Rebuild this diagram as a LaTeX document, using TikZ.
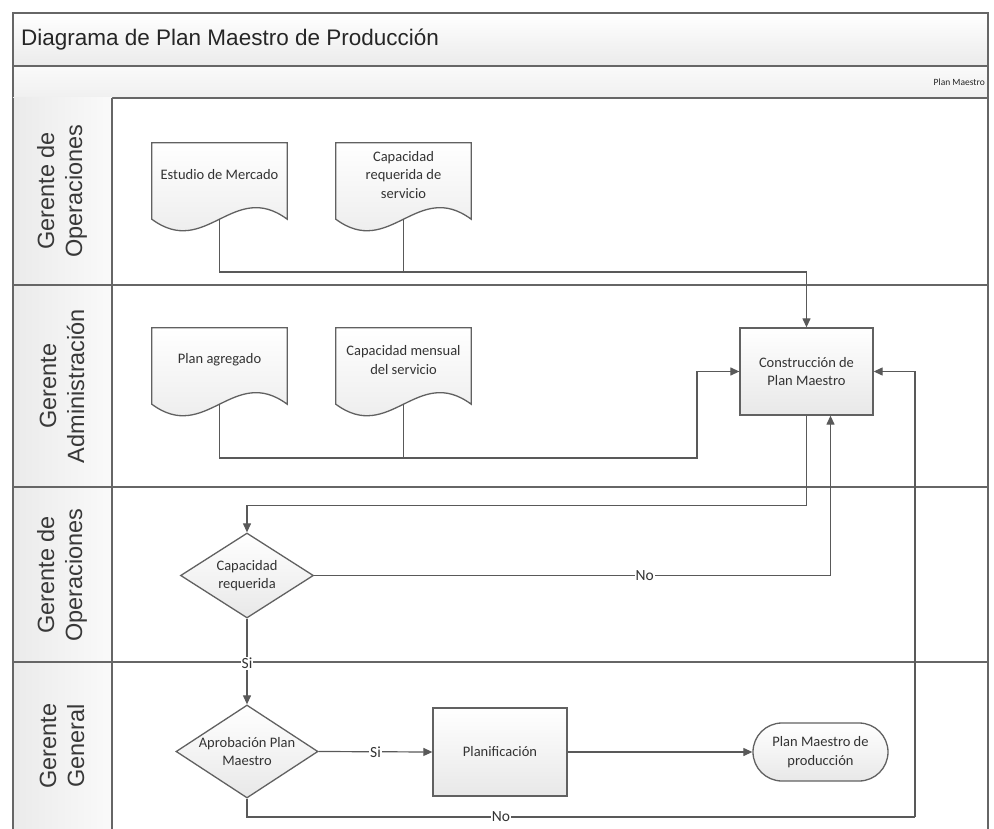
\documentclass[tikz,border=0pt]{standalone}
\usepackage{fontspec}
\setmainfont{Carlito}
\newfontfamily\arialf{Liberation Sans}
\usetikzlibrary{arrows.meta,calc,shapes.geometric}
\pgfdeclarelayer{back}
\pgfdeclarelayer{mid}
\pgfsetlayers{back,mid,main}
\newcommand\docoutline[1]{\draw[shp] (#1.north west) -- (#1.north east) -- ($(#1.south east)+(0,12)$) .. controls ($(#1.south east)+(-54,-28)$) and ($(#1.south west)+(54,52)$) .. ($(#1.south west)+(0,12)$) -- cycle;}
\begin{document}
\begin{tikzpicture}[x=1pt,y=-1pt,
  frame/.style={draw=black!60, line width=1.4pt},
  conn/.style={draw=black!65, line width=1.2pt},
  arr/.style={conn, -{Triangle[length=9pt,width=8pt]}},
  shp/.style={draw=black!62, line width=1.3pt, top color=white, bottom color=black!9},
  txt/.style={font=\fontsize{14.5}{18.5}\selectfont, align=center, text=black!80},
  lbl/.style={font=\fontsize{15.5}{18}\selectfont, fill=white, inner sep=1pt, text=black!80},
  lane/.style={font=\arialf\fontsize{23.5}{28}\selectfont, rotate=90, align=center, text=black!78},
  docbox/.style={txt, minimum width=135, minimum height=64, inner sep=0},
  proc/.style={shp, txt, rectangle, minimum width=133, minimum height=87, inner sep=0},
  dec/.style={shp, diamond, inner sep=0},
  term/.style={shp, txt, rectangle, rounded corners=29pt, minimum width=135, minimum height=58, inner sep=0}
]
\useasboundingbox (0,0) rectangle (994,829);
\begin{pgfonlayer}{back}
\fill[white] (0,0) rectangle (994,829);
\draw[frame, top color=white, bottom color=black!8] (13,13) rectangle (988,66);
\draw[frame, top color=black!2, bottom color=black!6] (13,66) rectangle (988,98);
\shade[left color=black!8, right color=black!2] (13,98) rectangle (112,829);
\draw[frame] (13,98) -- (13,829);
\draw[frame] (112,98) -- (112,829);
\draw[frame] (988,98) -- (988,829);
\draw[frame] (13,285) -- (988,285);
\draw[frame] (13,487) -- (988,487);
\draw[frame] (13,662) -- (988,662);
\end{pgfonlayer}

% headers
\node[anchor=west, font=\arialf\fontsize{22.5}{27}\selectfont, text=black!85, inner sep=0] (title) at (21,40) {Diagrama de Plan Maestro de Producción};
\node[anchor=east, font=\fontsize{9.5}{11}\selectfont, text=black!85, inner sep=0] (pmhead) at (985,82) {Plan Maestro};

% lane labels
\node[lane] (l1) at (62,191) {Gerente de\\Operaciones};
\node[lane] (l2) at (62,386) {Gerente\\Administración};
\node[lane] (l3) at (62,575) {Gerente de\\Operaciones};
\node[lane] (l4) at (62,746) {Gerente\\General};

% documents
\node[docbox] (est) at (219.5,175) {Estudio de Mercado};
\node[docbox] (capreq) at (403.5,175) {Capacidad\\requerida de\\servicio};
\node[docbox] (plan) at (219.5,360) {Plan agregado};
\node[docbox] (capmen) at (403.5,360) {Capacidad mensual\\del servicio};
\begin{pgfonlayer}{mid}
\docoutline{est}
\docoutline{capreq}
\docoutline{plan}
\docoutline{capmen}
\end{pgfonlayer}
\coordinate (est-out) at ($(est.south)+(0,12)$);
\coordinate (capreq-out) at ($(capreq.south)+(0,12)$);
\coordinate (plan-out) at ($(plan.south)+(0,12)$);
\coordinate (capmen-out) at ($(capmen.south)+(0,12)$);

% process nodes
\node[proc] (constr) at (806.5,371.5) {Construcción de\\Plan Maestro};
\node[dec, minimum width=133, minimum height=85] (d1) at (247,575.5) {};
\node[txt] (d1t) at (d1.center) {Capacidad\\requerida};
\node[dec, minimum width=142, minimum height=93] (d2) at (247,751.5) {};
\node[txt] (d2t) at (d2.center) {Aprobación Plan\\Maestro};
\node[proc, minimum width=134, minimum height=88] (planif) at (500,752) {Planificación};
\node[term] (pmp) at (820.5,752) {Plan Maestro de\\producción};

% connectors
\coordinate (j1) at (403.5,272);
\coordinate (j2) at (403.5,458);
\coordinate (k2) at (697,458);
\coordinate (k3) at (915,817);
\draw[conn] (capreq-out) -- (j1);
\draw[arr] (est-out) |- (j1) -| (constr.north);
\draw[conn] (capmen-out) -- (j2);
\draw[arr] (plan-out) |- (j2) -- (k2) |- (constr.west);
\draw[arr] (constr.south) -- ++(0,90) -| (d1.north);
\draw[arr] (d1.east) -| node[lbl,pos=0.32]{No} ($(constr.south)+(24,0)$);
\draw[arr] (d1.south) -- node[lbl,pos=0.52]{Si} (d2.north);
\draw[arr] (d2.east) -- node[lbl]{Si} (planif.west);
\draw[arr] (planif.east) -- (pmp.west);
\draw[conn] (d2.south) |- node[lbl,pos=0.69]{No} (k3);
\draw[arr] (k3) |- (constr.east);
\end{tikzpicture}
\end{document}
